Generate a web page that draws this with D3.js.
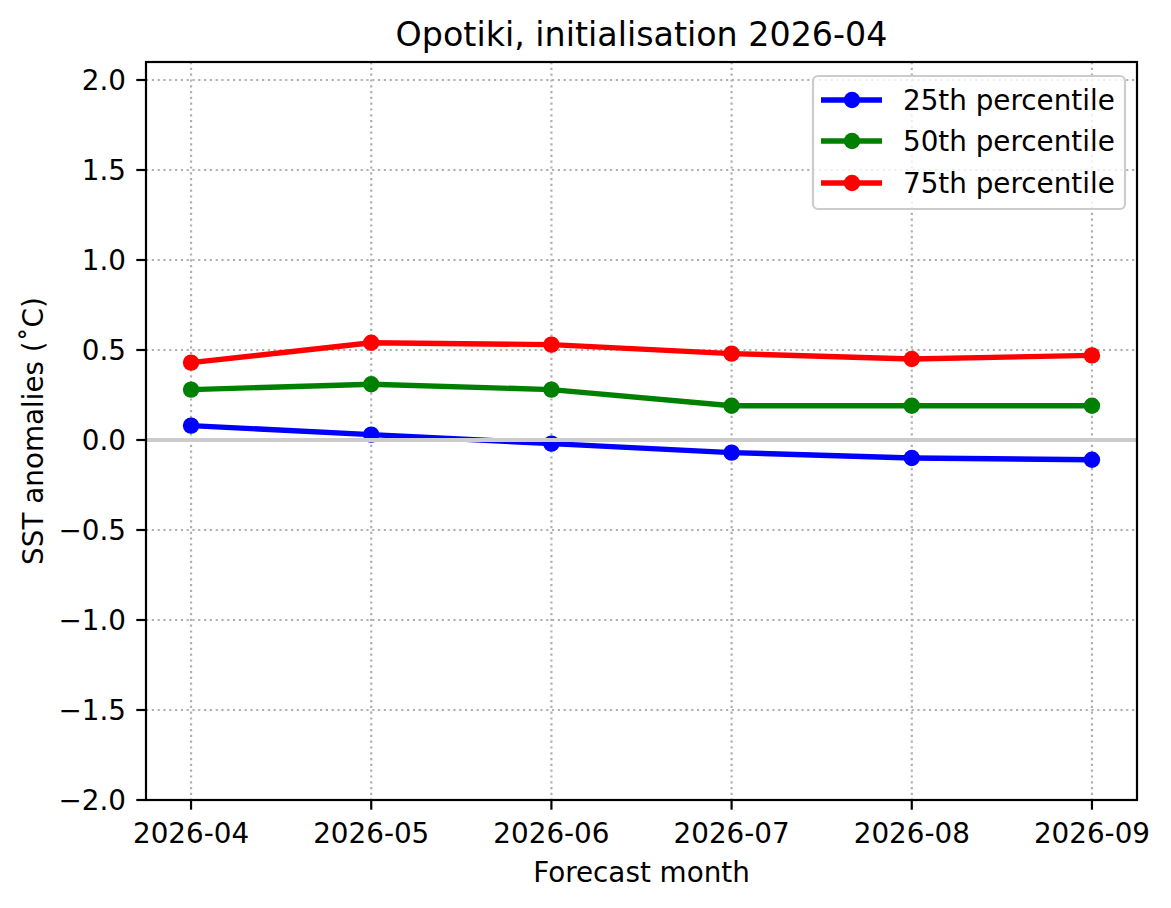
<!DOCTYPE html>
<html>
<head>
<meta charset="utf-8">
<script src="https://cdn.jsdelivr.net/npm/d3@7"></script>
<style>
  body { margin: 0; background: #fff; }
  svg { display: block; font-family: "DejaVu Sans", sans-serif; }
</style>
</head>
<body>
<svg></svg>
<script>
const months = ["2026-04", "2026-05", "2026-06", "2026-07", "2026-08", "2026-09"];
const p25 = [0.08, 0.03, -0.02, -0.07, -0.10, -0.11];
const p50 = [0.28, 0.31, 0.28, 0.19, 0.19, 0.19];
const p75 = [0.43, 0.54, 0.53, 0.48, 0.45, 0.47];
const seriesNames = ["25th percentile", "50th percentile", "75th percentile"];
const seriesColors = ["#0000ff", "#008000", "#ff0000"];
const yTicks = [-2.0, -1.5, -1.0, -0.5, 0.0, 0.5, 1.0, 1.5, 2.0];

const W = 1171, H = 908;
const margin = { top: 62, right: 34, bottom: 108, left: 146 };
const width = W - margin.left - margin.right;
const height = H - margin.top - margin.bottom;
const fs = 27.8; // 10pt at 200dpi

const svg = d3.select("svg").attr("width", W).attr("height", H);
const g = svg.append("g").attr("transform", `translate(${margin.left},${margin.top})`);

const x = d3.scaleLinear().domain([-0.25, 5.25]).range([0, width]);
const y = d3.scaleLinear().domain([-2, 2.1]).range([height, 0]);

const fmt = v => d3.format(".1f")(v).replace("-", "\u2212");

// grid
g.append("g").selectAll("line").data(months.map((m, i) => i)).join("line")
  .attr("x1", d => x(d)).attr("x2", d => x(d))
  .attr("y1", 0).attr("y2", height)
  .attr("stroke", "#b0b0b0").attr("stroke-width", 2.2)
  .attr("stroke-dasharray", "2.2,3.6");
g.append("g").selectAll("line").data(yTicks).join("line")
  .attr("x1", 0).attr("x2", width)
  .attr("y1", d => y(d)).attr("y2", d => y(d))
  .attr("stroke", "#b0b0b0").attr("stroke-width", 2.2)
  .attr("stroke-dasharray", "2.2,3.6");

const series = [p25, p50, p75];
const line = d3.line().x((d, i) => x(i)).y(d => y(d));

series.forEach((vals, k) => {
  g.append("path")
    .datum(vals)
    .attr("fill", "none")
    .attr("stroke", seriesColors[k])
    .attr("stroke-width", 5.4)
    .attr("d", line);
  g.append("g").selectAll("circle").data(vals).join("circle")
    .attr("cx", (d, i) => x(i))
    .attr("cy", d => y(d))
    .attr("r", 8.2)
    .attr("fill", seriesColors[k]);
});

// zero line on top
g.append("line")
  .attr("x1", 0).attr("x2", width)
  .attr("y1", y(0)).attr("y2", y(0))
  .attr("stroke", "#cccccc").attr("stroke-width", 4);

// axes frame
g.append("rect")
  .attr("width", width).attr("height", height)
  .attr("fill", "none").attr("stroke", "#000").attr("stroke-width", 2.2);

// x ticks
const xt = g.append("g").selectAll("g").data(months).join("g")
  .attr("transform", (d, i) => `translate(${x(i)},${height})`);
xt.append("line").attr("y2", 9.7).attr("stroke", "#000").attr("stroke-width", 2.2);
xt.append("text").attr("y", 43).attr("text-anchor", "middle")
  .attr("font-size", fs).attr("fill", "#000").text(d => d);

// y ticks
const yt = g.append("g").selectAll("g").data(yTicks).join("g")
  .attr("transform", d => `translate(0,${y(d)})`);
yt.append("line").attr("x2", -9.7).attr("stroke", "#000").attr("stroke-width", 2.2);
yt.append("text").attr("x", -20).attr("dy", "0.35em").attr("text-anchor", "end")
  .attr("font-size", fs).attr("fill", "#000").text(d => fmt(d));

// labels
svg.append("text")
  .attr("x", margin.left + width / 2).attr("y", 46)
  .attr("text-anchor", "middle").attr("font-size", 33.3)
  .text("Opotiki, initialisation 2026-04");

svg.append("text")
  .attr("x", margin.left + width / 2).attr("y", 882)
  .attr("text-anchor", "middle").attr("font-size", fs)
  .text("Forecast month");

svg.append("text")
  .attr("transform", `translate(43,${margin.top + height / 2}) rotate(-90)`)
  .attr("text-anchor", "middle").attr("font-size", fs)
  .text("SST anomalies (\u02DAC)");

// legend
const legend = svg.append("g");
legend.append("rect")
  .attr("x", 813).attr("y", 76).attr("width", 312).attr("height", 133)
  .attr("rx", 5).attr("fill", "#fff").attr("fill-opacity", 0.8)
  .attr("stroke", "#cccccc").attr("stroke-width", 2.2);
const rows = [100, 141, 183];
seriesNames.forEach((name, k) => {
  const ly = rows[k];
  legend.append("line")
    .attr("x1", 821).attr("x2", 882).attr("y1", ly).attr("y2", ly)
    .attr("stroke", seriesColors[k]).attr("stroke-width", 5.4);
  legend.append("circle").attr("cx", 852).attr("cy", ly).attr("r", 8.2)
    .attr("fill", seriesColors[k]);
  legend.append("text").attr("x", 903).attr("y", ly).attr("dy", "0.35em")
    .attr("font-size", fs).text(name);
});
</script>
</body>
</html>
